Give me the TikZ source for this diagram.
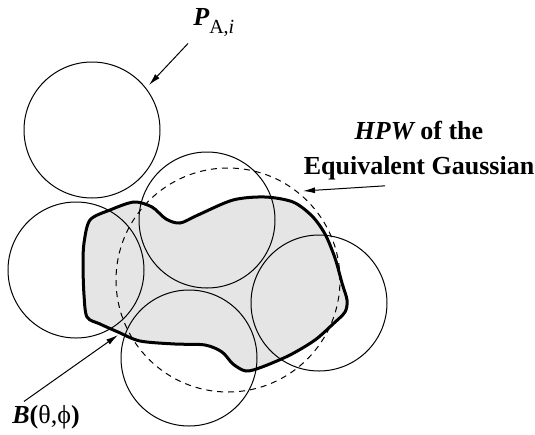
\documentclass[tikz,border=0pt]{standalone}
\usepackage{fontspec}
\setmainfont{Liberation Serif}
\usetikzlibrary{arrows.meta}

\begin{document}
\begin{tikzpicture}[
  x=5pt, y=-5pt,
  psfball/.style={
    circle, draw, line width=0.5pt,
    minimum size=68pt, inner sep=0pt
  },
  gaussring/.style={
    circle, draw, line width=0.5pt, dash pattern=on 3pt off 2.5pt,
    minimum size=112pt, inner sep=0pt
  },
  beamshape/.style={draw, line width=1.5pt, fill=black!10},
  pointer/.style={-{Latex[length=6pt, width=3pt]}, line width=0.5pt},
  biglabel/.style={font=\fontsize{13}{15}\selectfont, inner sep=0pt},
  textlabel/.style={font=\fontsize{13}{17.5}\selectfont\bfseries, align=center, inner sep=0pt},
]
\useasboundingbox (0,0) rectangle (53.5,43.4);

%% -- beam outline B ----------------------------------------------------------
\draw[beamshape] plot[smooth cycle] coordinates {
  (9.0,22.0) (11.0,21.0) (13.4,20.2) (15.2,20.7) (16.6,21.9) (18.0,22.3)
  (19.8,21.5) (23.3,20.0) (26.5,19.7) (29.3,20.2) (31.2,21.6)
  (32.5,23.4) (33.5,25.8) (34.2,28.3) (34.7,30.0) (34.5,31.2) (33.3,32.4)
  (31.5,34.0) (29.0,35.5) (26.2,36.7) (24.6,37.1) (23.3,36.4) (22.2,35.2)
  (20.5,34.5) (17.5,34.4) (14.0,34.1) (11.8,33.2) (10.0,32.4) (8.7,31.7)
  (8.4,29.5) (8.3,26.5) (8.4,24.3)
};

%% -- component circles P_{A,i} -----------------------------------------------
\node[psfball] (ballA) at (9.2,13.0) {};
\node[psfball] (ballB) at (20.7,22.0) {};
\node[psfball] (ballC) at (7.6,27.0) {};
\node[psfball] (ballD) at (18.9,35.8) {};
\node[psfball] (ballE) at (31.9,30.3) {};

%% -- equivalent Gaussian -----------------------------------------------------
\node[gaussring] (gauss) at (22.8,28.0) {};

%% -- labels ------------------------------------------------------------------
\node[biglabel, anchor=base west] (plabel) at (19.3,2.5)
  {{\bfseries\itshape P}\raisebox{-4pt}{\fontsize{10}{12}\selectfont A,\textit{i}}};
\node[textlabel] (hpwlabel) at (41.9,15.1)
  {{\itshape HPW} of the\\Equivalent Gaussian};
\node[biglabel, anchor=base west] (blabel) at (1.2,42.3)
  {{\bfseries\itshape B}\textbf{(}θ,ϕ\textbf{)}};

%% -- pointers ----------------------------------------------------------------
\coordinate (ptip) at (14.9,8.5);
\coordinate (hpwtip) at (30.3,19.1);
\coordinate (btip) at (11.8,33.5);

\draw[pointer] ([shift={(-0.5,0.7)}]plabel.south west) -- (ptip);
\draw[pointer] ([shift={(-3.4,0.5)}]hpwlabel.south) -- (hpwtip);
\draw[pointer] ([shift={(1.2,-0.3)}]blabel.north west) -- (btip);

\end{tikzpicture}
\end{document}
